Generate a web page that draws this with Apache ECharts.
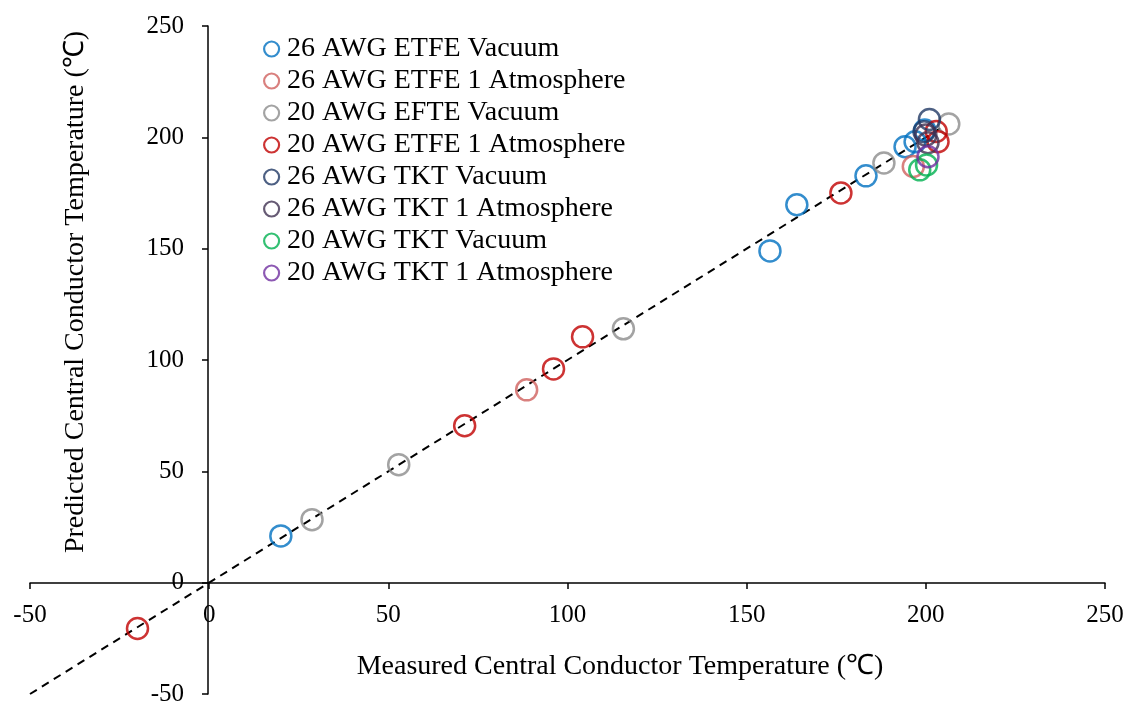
<!DOCTYPE html>
<html>
<head>
<meta charset="utf-8">
<script src="https://cdn.jsdelivr.net/npm/echarts@6/dist/echarts.min.js"></script>
<style>html,body{margin:0;padding:0;background:#fff;}#c{width:1135px;height:707px;}</style>
</head>
<body>
<div id="c"></div>
<script>
// ---- data (measured, predicted) ----
var seriesNames = [
  '26 AWG ETFE Vacuum',
  '26 AWG ETFE 1 Atmosphere',
  '20 AWG EFTE Vacuum',
  '20 AWG ETFE 1 Atmosphere',
  '26 AWG TKT Vacuum',
  '26 AWG TKT 1 Atmosphere',
  '20 AWG TKT Vacuum',
  '20 AWG TKT 1 Atmosphere'
];
var etfe26Vac = [[20, 21], [156.5, 149], [164, 169.7], [183.3, 182.7], [194.2, 195.8], [197, 198], [199.7, 203.3]];
var etfe26Atm = [[88.6, 86.6], [196.5, 186.9]];
var efte20Vac = [[28.7, 28.3], [52.9, 53], [115.6, 114], [188.3, 188.5], [206.4, 206]];
var etfe20Atm = [[-20, -20.6], [71.3, 70.5], [96.1, 96], [104.2, 110.4], [176.3, 175], [202.9, 202.6], [203.4, 198]];
var tkt26Vac = [[201, 208], [199.5, 202.5]];
var tkt26Atm = [[200, 201], [200.6, 197.6]];
var tkt20Vac = [[200.2, 187.6], [198.3, 185.4]];
var tkt20Atm = [[200.6, 191.3]];
var parityLine = [[-50, -50], [204, 204]];
var ticksX = [-50, 0, 50, 100, 150, 200, 250];
var ticksY = [-50, 0, 50, 100, 150, 200, 250];

var colors = ['#0070C0', '#D0605E', '#8C8C8C', '#C00000', '#203864', '#403151', '#00B050', '#7030A0'];
var datasets = [etfe26Vac, etfe26Atm, efte20Vac, etfe20Atm, tkt26Vac, tkt26Atm, tkt20Vac, tkt20Atm];

var font = 'Liberation Serif';
var chart = echarts.init(document.getElementById('c'));

var series = [{
  type: 'line',
  name: 'parity',
  data: parityLine,
  symbol: 'none',
  silent: true,
  z: 1,
  lineStyle: { color: '#000', width: 2, type: [8, 6] }
}];
datasets.forEach(function (d, i) {
  series.push({
    type: 'scatter',
    name: seriesNames[i],
    data: d,
    symbol: 'circle',
    symbolSize: 21,
    z: 3,
    itemStyle: { color: 'rgba(0,0,0,0)', borderColor: colors[i], borderWidth: 2.5 }
  });
});

// pixel offsets that put each axis on the other's zero
var xAxisOffset = -111;  // bottom axis moved up to y = 0
var yAxisOffset = -178;  // left axis moved right to x = 0

chart.setOption({
  animation: false,
  backgroundColor: '#fff',
  grid: { left: 30, right: 30, top: 26, bottom: 13, containLabel: false, outerBoundsMode: 'none' },
  legend: {
    data: seriesNames,
    orient: 'vertical',
    left: 258,
    top: 30,
    itemWidth: 15,
    itemHeight: 15,
    itemGap: 4,
    icon: 'circle',
    textStyle: { fontFamily: font, fontSize: 28, color: '#000', padding: [0, 0, 0, 3] },
    itemStyle: { borderWidth: 2.2 }
  },
  xAxis: {
    type: 'value',
    position: 'bottom',
    offset: xAxisOffset,
    min: ticksX[0], max: ticksX[ticksX.length - 1], interval: 50,
    axisLine: { onZero: false, lineStyle: { color: '#000', width: 1.5 } },
    axisTick: { show: true, length: 6, lineStyle: { color: '#000', width: 1.5 } },
    axisLabel: { fontFamily: font, fontSize: 25, color: '#000', margin: 20 },
    splitLine: { show: false },
    name: 'Measured Central Conductor Temperature (℃)',
    nameLocation: 'middle',
    nameGap: 70,
    nameTextStyle: { fontFamily: font, fontSize: 28, color: '#000', padding: [0, 0, 0, 105] }
  },
  yAxis: {
    type: 'value',
    position: 'left',
    offset: yAxisOffset,
    min: ticksY[0], max: ticksY[ticksY.length - 1], interval: 50,
    axisLine: { onZero: false, lineStyle: { color: '#000', width: 1.5 } },
    axisTick: { show: true, length: 6, lineStyle: { color: '#000', width: 1.5 } },
    axisLabel: { fontFamily: font, fontSize: 25, color: '#000', margin: 24 },
    splitLine: { show: false },
    name: 'Predicted Central Conductor Temperature (℃)',
    nameLocation: 'middle',
    nameGap: 118,
    nameTextStyle: { fontFamily: font, fontSize: 28, color: '#000', padding: [0, 0, 0, 136] }
  },
  series: series
});
</script>
</body>
</html>
